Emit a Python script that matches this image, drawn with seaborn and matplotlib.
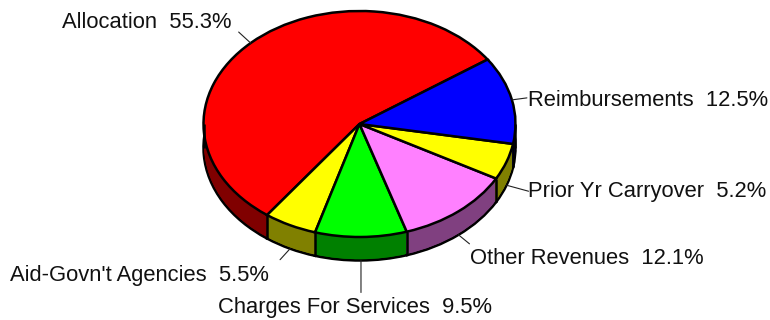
import numpy as np
import matplotlib
matplotlib.use("Agg")
import matplotlib.pyplot as plt
import seaborn as sns

# Revenue sources and their shares, in percent
sources = ["Allocation", "Aid-Govn't Agencies", "Charges For Services",
           "Other Revenues", "Prior Yr Carryover", "Reimbursements"]
shares = [55.3, 5.5, 9.5, 12.1, 5.2, 12.5]
top_colors = ["#ff0000", "#ffff00", "#00ff00", "#ff80ff", "#ffff00", "#0000ff"]
side_colors = ["#800000", "#808000", "#008000", "#804080", "#808000", "#000080"]

sns.set_theme(style="white")
plt.rcParams["font.family"] = ["Liberation Sans", "DejaVu Sans"]

WIDTH, HEIGHT = 770, 320
CX, CY, RX, RY = 359.5, 124.0, 156.0, 113.0
START = 34.8
DEPTH = 23.5 / RY
EDGE_LW = 1.8

fig = plt.figure(figsize=(WIDTH / 100, HEIGHT / 100), dpi=100)
ax = fig.add_axes([0, 0, 1, 1])

# Cumulative wedge boundaries in degrees, counter-clockwise from the start angle
fractions = np.array(shares) / sum(shares)
edges = START + 360 * np.concatenate([[0], np.cumsum(fractions)])
mids = (edges[:-1] + edges[1:]) / 2

# Extruded rim: a stack of darker pies, outlined only on the lowest one
black = dict(edgecolor="black", linewidth=EDGE_LW)
ax.pie(shares, colors=side_colors, startangle=START, radius=1,
       center=(0, -DEPTH), wedgeprops=black)
for off in np.linspace(DEPTH, 0, 30)[1:]:
    ax.pie(shares, colors=side_colors, startangle=START, radius=0.995,
           center=(0, -off), wedgeprops=dict(linewidth=0))

# Vertical seams on the visible front of the rim
for edge in edges:
    a = np.deg2rad(edge)
    if np.sin(a) < 0:
        ax.plot([np.cos(a)] * 2, [np.sin(a), np.sin(a) - DEPTH],
                color="black", lw=EDGE_LW, solid_capstyle="butt")
for side in (-1, 1):
    ax.plot([side * 0.997] * 2, [0, -DEPTH], color="black", lw=EDGE_LW,
            solid_capstyle="butt")

# Top face
ax.pie(shares, colors=top_colors, startangle=START, radius=1,
       wedgeprops=black)

ax.set_aspect("auto")
ax.set_xlim((0 - CX) / RX, (WIDTH - CX) / RX)
ax.set_ylim((CY - HEIGHT) / RY, CY / RY)
ax.set_axis_off()

# Label anchor (left edge, vertical centre) and leader-line reach, in pixels
text_pos = [(62, 22), (10, 275), (218, 308), (470, 259), (528, 192), (528, 100)]
leader = [(-12, 11), (-10, -11), (0, -32), (11, -9), (22, -6), (15, 2)]

for name, share, mid, (tx, ty), (dx, dy) in zip(sources, shares, mids, text_pos, leader):
    a = np.deg2rad(mid)
    x, y = np.cos(a), np.sin(a)
    if y < 0:
        y -= DEPTH
    ax.annotate("", xy=(x, y), xytext=(dx, dy), textcoords="offset pixels",
                arrowprops=dict(arrowstyle="-", color="#222222", lw=0.8,
                                shrinkA=0, shrinkB=0))
    ax.annotate(f"{name}  {share}%", xy=(tx, HEIGHT - ty), xycoords="figure pixels",
                ha="left", va="center", fontsize=15.8, color="#111111")

fig.savefig("out.png", dpi=100)
